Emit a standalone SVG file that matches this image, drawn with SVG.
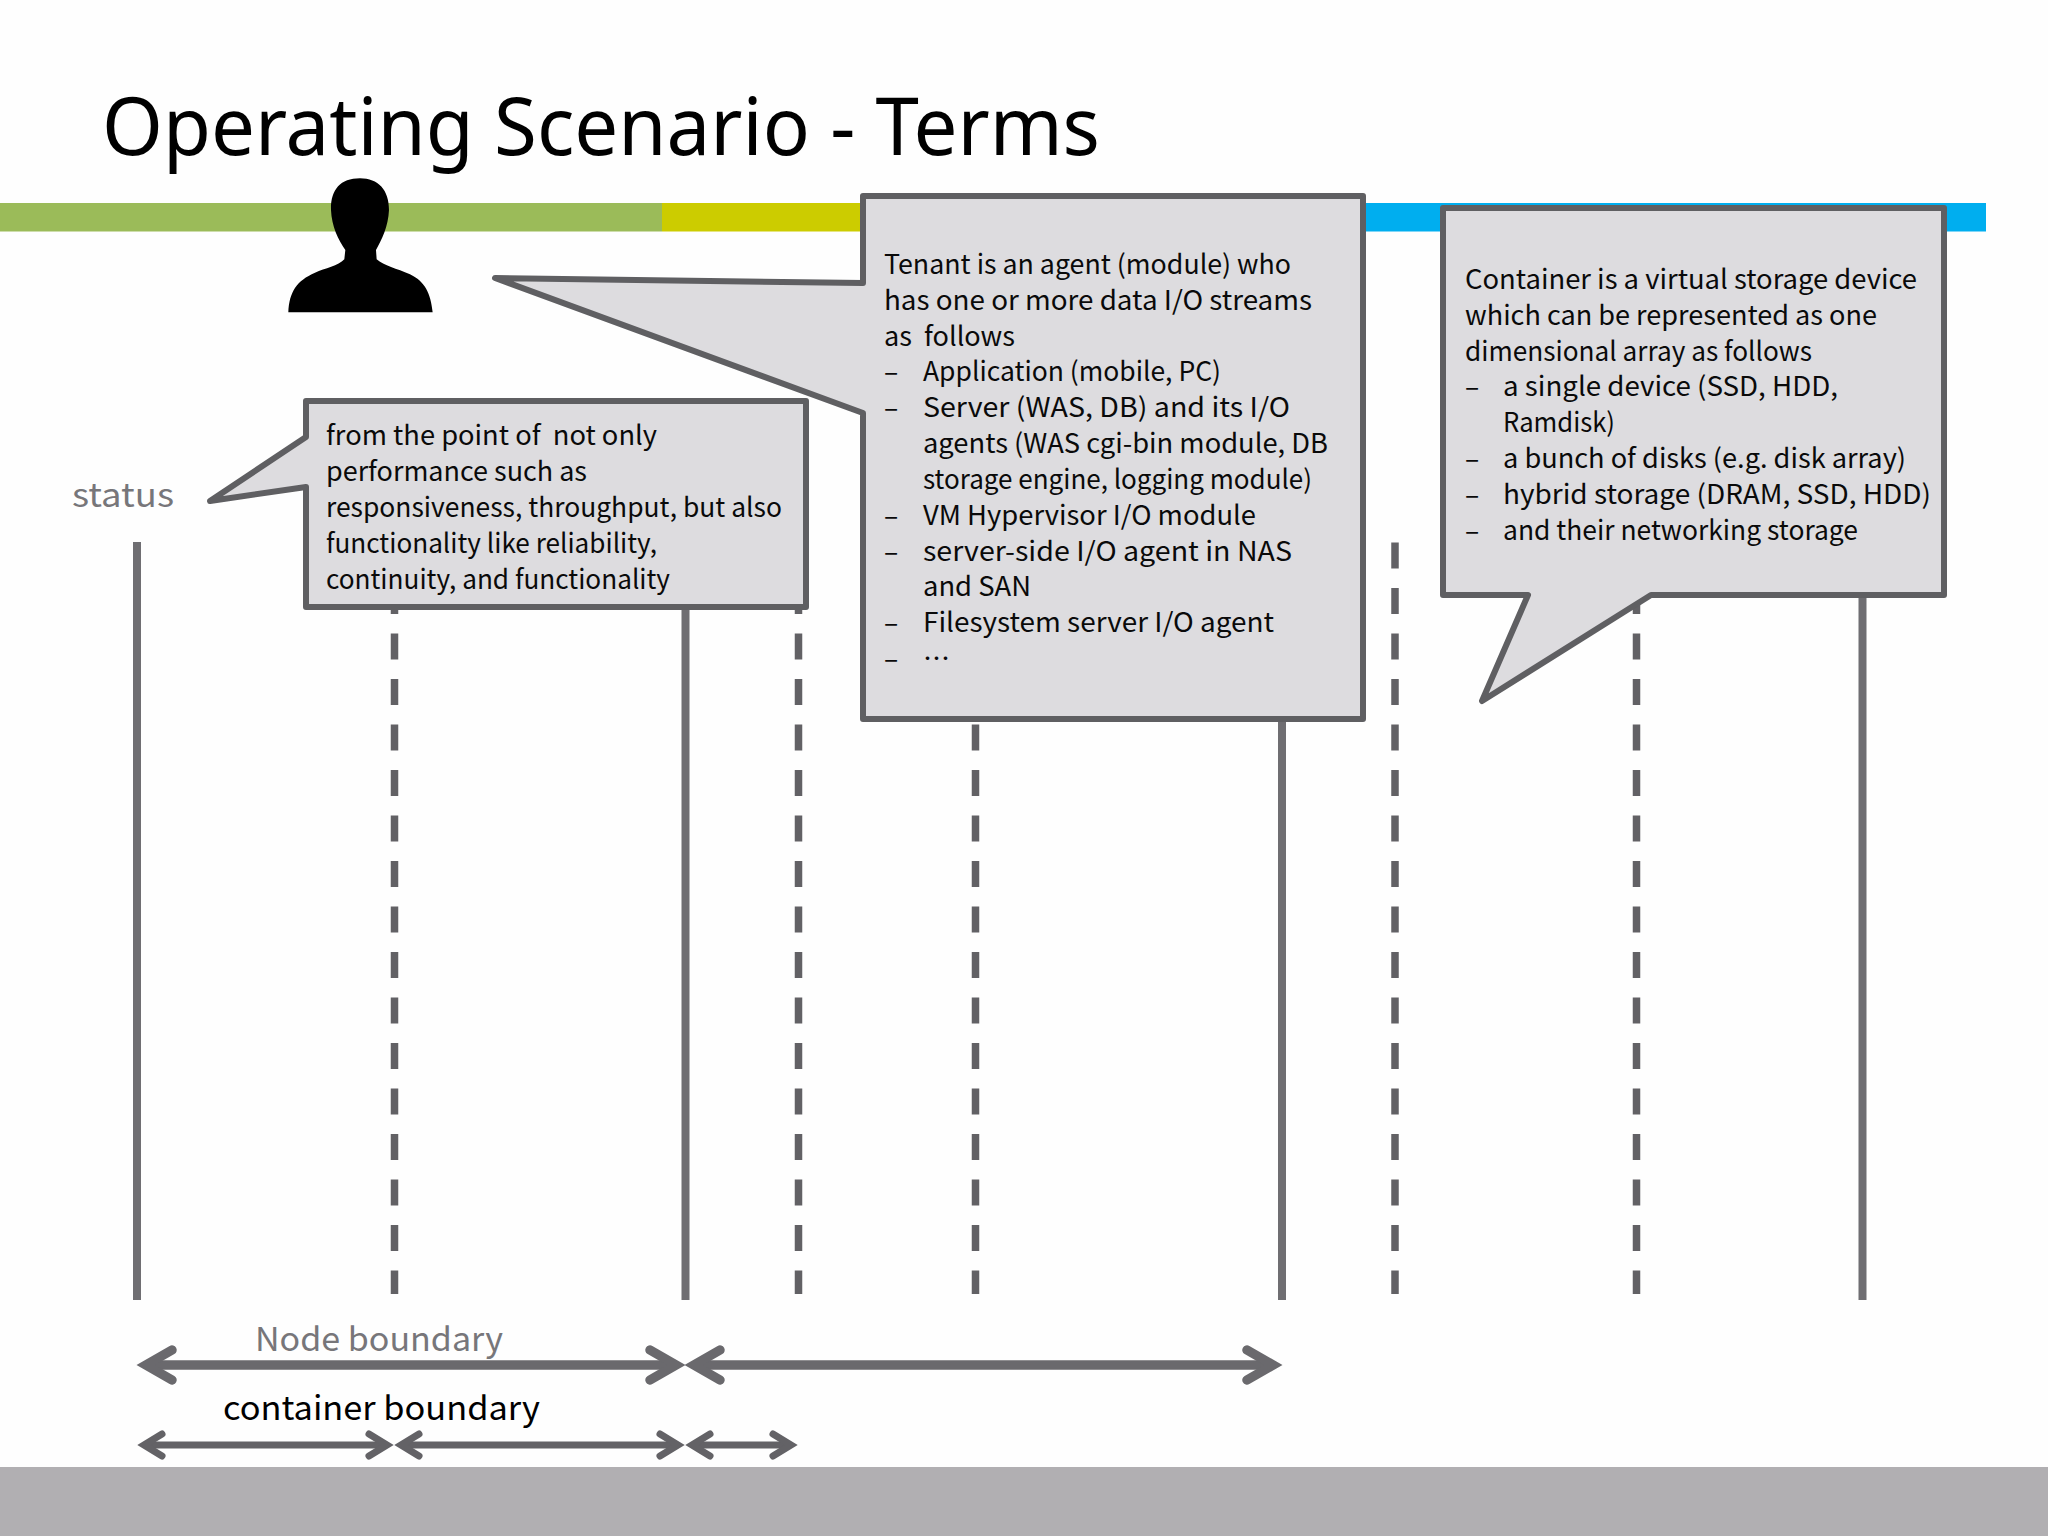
<svg xmlns="http://www.w3.org/2000/svg" width="2048" height="1536" viewBox="0 0 2048 1536">
<style>
text{font-family:"Noto Sans CJK JP","Noto Sans",sans-serif;}
.t{font-size:26.5px;fill:#0a0a0a;}
.title{font-family:"Noto Sans","Open Sans",sans-serif;font-size:80px;fill:#000;}
.g{font-size:33px;fill:#77767a;}
.k{font-size:33px;fill:#000;}
.box{fill:#dddcdf;stroke:#5f5f62;stroke-width:6;stroke-linejoin:round;}
.s{stroke:#6f6e72;stroke-width:8;fill:none;}
.d{stroke:#626165;stroke-width:7.5;stroke-dasharray:26 19.5;fill:none;}
.a1{stroke:#6a696d;stroke-width:9.5;fill:none;marker-start:url(#h1);marker-end:url(#h1);}
.a2{stroke:#636266;stroke-width:7;fill:none;marker-start:url(#h2);marker-end:url(#h2);}
</style>
<defs>
<marker id="h1" markerUnits="userSpaceOnUse" markerWidth="60" markerHeight="60" refX="0" refY="0" orient="auto-start-reverse" overflow="visible"><path d="M-26,-15 L0,0 L-26,15" fill="none" stroke="#6a696d" stroke-width="9.5" stroke-linecap="round" stroke-linejoin="miter"/></marker>
<marker id="h2" markerUnits="userSpaceOnUse" markerWidth="60" markerHeight="60" refX="0" refY="0" orient="auto-start-reverse" overflow="visible"><path d="M-18,-11 L0,0 L-18,11" fill="none" stroke="#636266" stroke-width="7" stroke-linecap="round" stroke-linejoin="miter"/></marker>
</defs>
<rect id="background" width="2048" height="1536" fill="#fefefe"/>
<g id="header">
<rect x="0" y="203" width="662" height="28.5" fill="#9bbb59"/>
<rect x="662" y="203" width="204" height="28.5" fill="#cccc00"/>
<rect x="1360" y="203" width="626" height="28.5" fill="#00aeef"/>
<text class="title" x="102" y="155" textLength="998" lengthAdjust="spacingAndGlyphs">Operating Scenario - Terms</text>
</g>
<rect id="footer" x="0" y="1467" width="2048" height="69" fill="#b1afb2"/>
<g id="connectors">
<line class="s" x1="137" y1="542" x2="137" y2="1300"/>
<line class="d" x1="394.5" y1="542.5" x2="394.5" y2="1294"/>
<line class="s" x1="685.5" y1="542" x2="685.5" y2="1300"/>
<line class="d" x1="798.5" y1="542.5" x2="798.5" y2="1294"/>
<line class="d" x1="975.5" y1="542.5" x2="975.5" y2="1294"/>
<line class="s" x1="1282" y1="542" x2="1282" y2="1300"/>
<line class="d" x1="1395" y1="542.5" x2="1395" y2="1294"/>
<line class="d" x1="1636.5" y1="542.5" x2="1636.5" y2="1294"/>
<line class="s" x1="1862.5" y1="542" x2="1862.5" y2="1300"/>
<line class="a1" x1="146" y1="1365" x2="676" y2="1365"/>
<line class="a1" x1="694" y1="1365" x2="1273" y2="1365"/>
<line class="a2" x1="144" y1="1445" x2="387" y2="1445"/>
<line class="a2" x1="401" y1="1445" x2="678" y2="1445"/>
<line class="a2" x1="692" y1="1445" x2="791" y2="1445"/>
</g>
<g id="person"><path transform="translate(260,160) scale(.3333)" fill="#000" d="M85,457 C88,395 110,362 165,338 C195,325 235,318 253,298 L256,270 C235,240 215,200 213,150 C212,90 240,55 300,55 C355,55 387,90 387,150 C385,200 365,240 348,270 L350,298 C372,318 410,325 450,343 C495,365 512,400 518,457 Z"/></g>
<text id="status-label" class="g" x="72" y="507" textLength="102" lengthAdjust="spacingAndGlyphs">status</text>
<g id="status-callout">
<path class="box" d="M306,401 H806 V607 H306 V487 L210,501 L306,437 Z"/>
<text class="t" x="326" y="445" textLength="331" lengthAdjust="spacingAndGlyphs" xml:space="preserve">from the point of  not only</text>
<text class="t" x="326" y="481" textLength="261" lengthAdjust="spacingAndGlyphs">performance such as</text>
<text class="t" x="326" y="517" textLength="456" lengthAdjust="spacingAndGlyphs">responsiveness, throughput, but also</text>
<text class="t" x="326" y="552.5" textLength="331" lengthAdjust="spacingAndGlyphs">functionality like reliability,</text>
<text class="t" x="326" y="588.5" textLength="344" lengthAdjust="spacingAndGlyphs">continuity, and functionality</text>
</g>
<g id="tenant-callout">
<path class="box" d="M863,196 H1363 V719 H863 V413 L495,278 L863,283 Z"/>
<text class="t" x="884" y="273.5" textLength="407" lengthAdjust="spacingAndGlyphs">Tenant is an agent (module) who</text>
<text class="t" x="884" y="309.5" textLength="428" lengthAdjust="spacingAndGlyphs">has one or more data I/O streams</text>
<text class="t" x="884" y="346" textLength="131" lengthAdjust="spacingAndGlyphs" xml:space="preserve">as  follows</text>
<text class="t" x="884" y="381">–</text><text class="t" x="923" y="381" textLength="298" lengthAdjust="spacingAndGlyphs">Application (mobile, PC)</text>
<text class="t" x="884" y="417">–</text><text class="t" x="923" y="417" textLength="367" lengthAdjust="spacingAndGlyphs">Server (WAS, DB) and its I/O</text>
<text class="t" x="923" y="453" textLength="405" lengthAdjust="spacingAndGlyphs">agents (WAS cgi-bin module, DB</text>
<text class="t" x="923" y="489" textLength="389" lengthAdjust="spacingAndGlyphs">storage engine, logging module)</text>
<text class="t" x="884" y="524.5">–</text><text class="t" x="923" y="524.5" textLength="333" lengthAdjust="spacingAndGlyphs">VM Hypervisor I/O module</text>
<text class="t" x="884" y="560.5">–</text><text class="t" x="923" y="560.5" textLength="369" lengthAdjust="spacingAndGlyphs">server-side I/O agent in NAS</text>
<text class="t" x="923" y="596" textLength="108" lengthAdjust="spacingAndGlyphs">and SAN</text>
<text class="t" x="884" y="632">–</text><text class="t" x="923" y="632" textLength="351" lengthAdjust="spacingAndGlyphs">Filesystem server I/O agent</text>
<text class="t" x="884" y="668">–</text><text class="t" x="923" y="668" textLength="27" lengthAdjust="spacingAndGlyphs">…</text>
</g>
<g id="container-callout">
<path class="box" d="M1443,208 H1944 V595 H1651 L1482,701 L1528,595 H1443 Z"/>
<text class="t" x="1465" y="288.5" textLength="452" lengthAdjust="spacingAndGlyphs">Container is a virtual storage device</text>
<text class="t" x="1465" y="324.5" textLength="412" lengthAdjust="spacingAndGlyphs">which can be represented as one</text>
<text class="t" x="1465" y="360.5" textLength="347" lengthAdjust="spacingAndGlyphs">dimensional array as follows</text>
<text class="t" x="1465" y="396">–</text><text class="t" x="1503" y="396" textLength="335" lengthAdjust="spacingAndGlyphs">a single device (SSD, HDD,</text>
<text class="t" x="1503" y="432" textLength="112" lengthAdjust="spacingAndGlyphs">Ramdisk)</text>
<text class="t" x="1465" y="468">–</text><text class="t" x="1503" y="468" textLength="403" lengthAdjust="spacingAndGlyphs">a bunch of disks (e.g. disk array)</text>
<text class="t" x="1465" y="503.5">–</text><text class="t" x="1503" y="503.5" textLength="428" lengthAdjust="spacingAndGlyphs">hybrid storage (DRAM, SSD, HDD)</text>
<text class="t" x="1465" y="539.5">–</text><text class="t" x="1503" y="539.5" textLength="355" lengthAdjust="spacingAndGlyphs">and their networking storage</text>
</g>
<text id="node-boundary" class="g" x="255" y="1351" textLength="248" lengthAdjust="spacingAndGlyphs">Node boundary</text>
<text id="container-boundary" class="k" x="223" y="1420" textLength="317" lengthAdjust="spacingAndGlyphs">container boundary</text>
</svg>
